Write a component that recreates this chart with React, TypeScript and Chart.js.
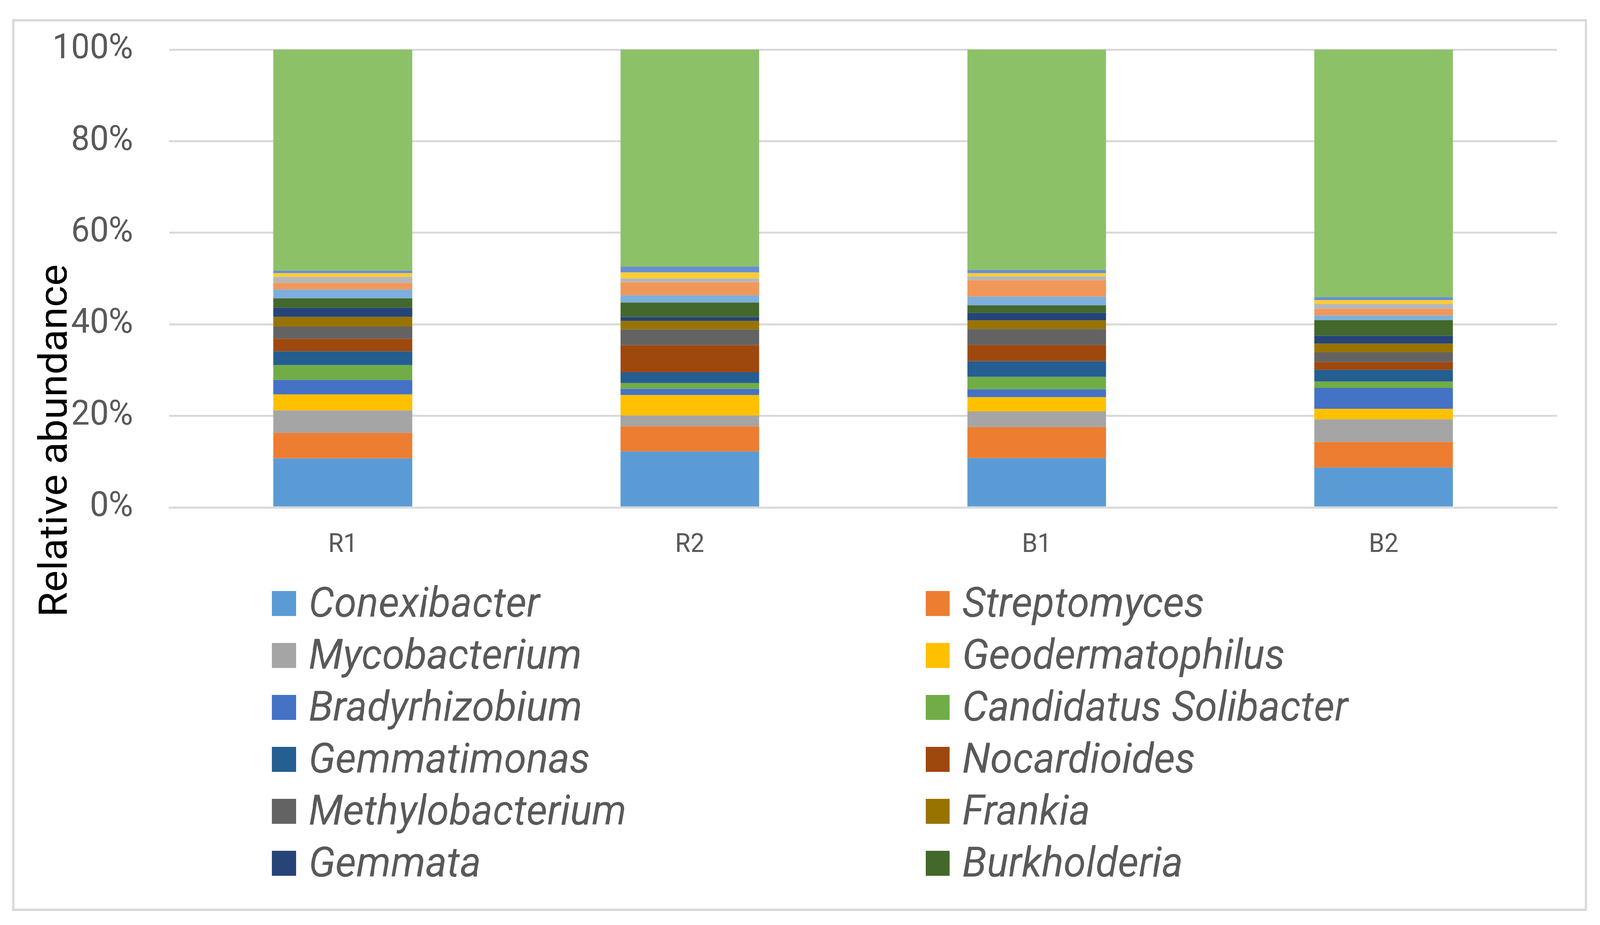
import React, { useEffect, useRef, useState } from "react";
import { Chart, registerables } from "chart.js";

Chart.register(...registerables);

const categories = ["R1", "R2", "B1", "B2"];
const yTickValues = [0, 20, 40, 60, 80, 100];
const yTitle = "Relative abundance";

const conexibacter = [10.7, 12.23, 10.78, 8.72];
const streptomyces = [5.57, 5.48, 6.78, 5.57];
const mycobacterium = [4.91, 2.37, 3.43, 4.95];
const geodermatophilus = [3.5, 4.45, 3.09, 2.28];
const bradyrhizobium = [3.16, 1.37, 1.71, 4.58];
const candidatusSolibacter = [3.24, 1.26, 2.74, 1.4];
const gemmatimonas = [3.01, 2.36, 3.43, 2.56];
const nocardioides = [2.74, 5.94, 3.51, 1.71];
const methylobacterium = [2.67, 3.43, 3.5, 2.1];
const frankia = [2.1, 1.83, 1.87, 1.9];
const gemmata = [2.02, 0.88, 1.67, 1.72];
const burkholderia = [2.06, 3.16, 1.64, 3.42];
const genus13 = [1.9, 1.6, 1.91, 1.03];
const genus14 = [1.45, 2.82, 3.58, 1.45];
const genus15 = [1.33, 0.84, 0.84, 1.07];
const genus16 = [0.8, 1.3, 0.68, 0.8];
const genus17 = [0.57, 1.3, 0.69, 0.68];
const others = [48.27, 47.39, 48.15, 54.06];

const seriesNames = [
  "Conexibacter", "Streptomyces", "Mycobacterium", "Geodermatophilus",
  "Bradyrhizobium", "Candidatus Solibacter", "Gemmatimonas", "Nocardioides",
  "Methylobacterium", "Frankia", "Gemmata", "Burkholderia",
  "Genus 13", "Genus 14", "Genus 15", "Genus 16", "Genus 17", "Others",
];
const seriesValues = [
  conexibacter, streptomyces, mycobacterium, geodermatophilus,
  bradyrhizobium, candidatusSolibacter, gemmatimonas, nocardioides,
  methylobacterium, frankia, gemmata, burkholderia,
  genus13, genus14, genus15, genus16, genus17, others,
];
const seriesColors = [
  "#5B9BD5", "#ED7D31", "#A5A5A5", "#FFC000", "#4472C4", "#70AD47",
  "#255E91", "#9E480E", "#636363", "#997300", "#264478", "#43682B",
  "#7CAFDD", "#F1975A", "#B7B7B7", "#FFCD33", "#698ED0", "#8CC168",
];
const legendCount = 12;

const W = 4252;
const H = 2368;
const FONT = "Roboto, 'Open Sans', sans-serif";

const overlayPlugin = {
  id: "overlay",
  afterDraw(chart: any) {
    const ctx = chart.ctx;
    // y-axis title
    ctx.save();
    ctx.translate(177, 1128);
    ctx.rotate(-Math.PI / 2);
    ctx.font = `104px ${FONT}`;
    ctx.fillStyle = "#000000";
    ctx.textAlign = "center";
    ctx.textBaseline = "alphabetic";
    ctx.fillText(yTitle, 0, 0);
    ctx.restore();

    // legend in two columns
    const colX = [723, 2460];
    const firstRow = 1545;
    const rowGap = 133;
    const box = 64;
    ctx.save();
    ctx.font = `italic 108px ${FONT}`;
    ctx.textAlign = "left";
    ctx.textBaseline = "alphabetic";
    chart.data.datasets.slice(0, legendCount).forEach((ds: any, i: number) => {
      const col = i % 2;
      const row = Math.floor(i / 2);
      const x = colX[col];
      const yc = firstRow + row * rowGap;
      ctx.fillStyle = ds.backgroundColor;
      ctx.fillRect(x, yc - box / 2, box, box);
      ctx.fillStyle = "#595959";
      ctx.fillText(ds.label, x + 97, yc + 34);
    });
    ctx.restore();
  },
};

function getScale() {
  if (typeof window === "undefined") return { sx: 1, sy: 1 };
  const sx = window.innerWidth / W;
  const sy = window.innerHeight / H;
  return { sx: sx > 0 ? sx : 1, sy: sy > 0 ? sy : 1 };
}

export default function App() {
  const ref = useRef<HTMLCanvasElement | null>(null);
  const [scale, setScale] = useState(getScale());

  useEffect(() => {
    const onResize = () => setScale(getScale());
    window.addEventListener("resize", onResize);
    return () => window.removeEventListener("resize", onResize);
  }, []);

  useEffect(() => {
    if (!ref.current) return;
    const chart = new Chart(ref.current, {
      type: "bar",
      data: {
        labels: categories,
        datasets: seriesNames.map((name, i) => ({
          label: name,
          data: seriesValues[i],
          backgroundColor: seriesColors[i],
          borderWidth: 0,
          barPercentage: 0.4,
          categoryPercentage: 1.0,
        })),
      },
      options: {
        animation: false,
        responsive: false,
        devicePixelRatio: 1,
        layout: { padding: { left: 0, right: 114, top: 127, bottom: 0 } },
        plugins: {
          legend: { display: false },
          tooltip: { enabled: false },
          title: { display: false },
        },
        scales: {
          x: {
            stacked: true,
            grid: { display: false, drawTicks: false },
            border: { display: true, color: "#D9D9D9", width: 5 },
            ticks: {
              color: "#595959",
              font: { family: FONT, size: 66 },
              padding: 58,
              maxRotation: 0,
            },
            afterFit: (s: any) => {
              s.height = 1069;
              s.paddingLeft = 0;
              s.paddingRight = 0;
            },
          },
          y: {
            stacked: true,
            min: 0,
            max: 100,
            afterBuildTicks: (s: any) => {
              s.ticks = yTickValues.map((v) => ({ value: v }));
            },
            grid: { color: "#D9D9D9", lineWidth: 5, drawTicks: false },
            border: { display: false },
            ticks: {
              color: "#595959",
              font: { family: FONT, size: 89 },
              padding: 96,
              callback: (v: any) => `${v}%`,
            },
            afterFit: (s: any) => {
              s.width = 450;
              s.paddingTop = 0;
              s.paddingBottom = 0;
            },
          },
        },
      },
      plugins: [overlayPlugin],
    });
    return () => chart.destroy();
  }, []);

  return (
    <div
      style={{
        position: "fixed",
        left: 0,
        top: 0,
        width: "100vw",
        height: "100vh",
        background: "#ffffff",
        overflow: "hidden",
      }}
    >
      <div
        style={{
          position: "absolute",
          left: 0,
          top: 0,
          width: W,
          height: H,
          transform: `scale(${scale.sx}, ${scale.sy})`,
          transformOrigin: "0 0",
        }}
      >
        <canvas
          ref={ref}
          width={W}
          height={H}
          style={{ position: "absolute", left: 0, top: 0, width: W, height: H }}
        />
        <div
          style={{
            position: "absolute",
            left: 32,
            top: 49,
            width: 4186,
            height: 2283,
            border: "6px solid #D9D9D9",
            boxSizing: "border-box",
            pointerEvents: "none",
          }}
        />
      </div>
    </div>
  );
}
